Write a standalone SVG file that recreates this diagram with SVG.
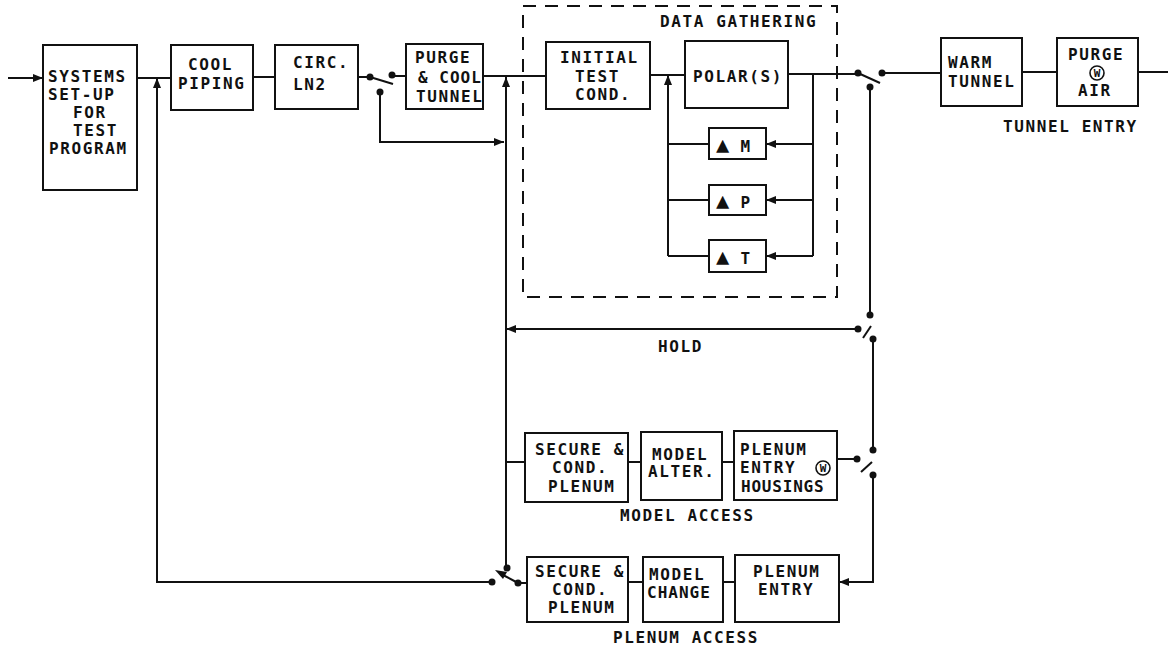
<svg xmlns="http://www.w3.org/2000/svg" width="1168" height="651" viewBox="0 0 1168 651">
<style>
.box{fill:none;stroke:#111;stroke-width:2}
.ln{fill:none;stroke:#111;stroke-width:2}
.dash{fill:none;stroke:#111;stroke-width:2;stroke-dasharray:13 9}
.dot{fill:#111}
text{font-family:"DejaVu Sans Mono","Liberation Mono",monospace;font-size:16px;font-weight:bold;letter-spacing:1.6px;fill:#111}
.sm{font-size:11px;letter-spacing:0}
.tri{font-size:22px;letter-spacing:0}
</style>
<defs>
<marker id="ah" viewBox="0 0 10 10" refX="10" refY="5" markerWidth="10" markerHeight="10" markerUnits="userSpaceOnUse" orient="auto">
<path d="M0,1 L10,5 L0,9 Z" fill="#111"/>
</marker>
</defs>
<rect width="1168" height="651" fill="#fff"/>

<g id="data-gathering">
<rect class="dash" x="523" y="6" width="314" height="291"/>
<text x="660" y="27">DATA GATHERING</text>
</g>

<g id="systems-setup">
<rect class="box" x="43" y="45" width="94" height="145"/>
<text x="48" y="82">SYSTEMS</text>
<text x="48" y="100">SET-UP</text>
<text x="73" y="118">FOR</text>
<text x="73" y="136">TEST</text>
<text x="49" y="154">PROGRAM</text>
</g>
<g id="cool-piping">
<rect class="box" x="171" y="45" width="82" height="65"/>
<text x="188" y="70">COOL</text>
<text x="178" y="89">PIPING</text>
</g>
<g id="circ-ln2">
<rect class="box" x="275" y="45" width="83" height="64"/>
<text x="293" y="68">CIRC.</text>
<text x="293" y="90">LN2</text>
</g>
<g id="purge-cool">
<rect class="box" x="406" y="44" width="77" height="65"/>
<text x="415" y="63">PURGE</text>
<text x="418" y="83" style="letter-spacing:1px">&amp; COOL</text>
<text x="416" y="102">TUNNEL</text>
</g>
<g id="initial-test">
<rect class="box" x="546" y="42" width="104" height="67"/>
<text x="560" y="63">INITIAL</text>
<text x="575" y="82">TEST</text>
<text x="575" y="100">COND.</text>
</g>
<g id="polars">
<rect class="box" x="685" y="41" width="103" height="67"/>
<text x="693" y="82">POLAR(S)</text>
</g>
<g id="delta-m">
<rect class="box" x="709" y="128" width="57" height="31"/>
<text x="716" y="152"><tspan class="tri">▲</tspan> M</text>
</g>
<g id="delta-p">
<rect class="box" x="709" y="185" width="57" height="30"/>
<text x="716" y="208"><tspan class="tri">▲</tspan> P</text>
</g>
<g id="delta-t">
<rect class="box" x="709" y="240" width="57" height="32"/>
<text x="716" y="264"><tspan class="tri">▲</tspan> T</text>
</g>
<g id="warm-tunnel">
<rect class="box" x="941" y="38" width="81" height="68"/>
<text x="948" y="68">WARM</text>
<text x="948" y="87">TUNNEL</text>
</g>
<g id="purge-air">
<rect class="box" x="1057" y="38" width="81" height="68"/>
<text x="1068" y="60">PURGE</text>
<circle cx="1097" cy="73" r="7" fill="none" stroke="#111" stroke-width="1.6"/>
<text class="sm" x="1097" y="77" text-anchor="middle">W</text>
<text x="1078" y="96">AIR</text>
</g>
<g id="tunnel-entry-label"><text x="1003" y="132">TUNNEL ENTRY</text></g>

<g id="hold-label"><text x="658" y="352">HOLD</text></g>

<g id="secure-1">
<rect class="box" x="525" y="433" width="103" height="69"/>
<text x="535" y="455">SECURE &amp;</text>
<text x="552" y="473">COND.</text>
<text x="548" y="492">PLENUM</text>
</g>
<g id="model-alter">
<rect class="box" x="641" y="432" width="81" height="68"/>
<text x="652" y="460">MODEL</text>
<text x="648" y="477">ALTER.</text>
</g>
<g id="plenum-entry-housings">
<rect class="box" x="734" y="431" width="103" height="69"/>
<text x="740" y="455">PLENUM</text>
<text x="740" y="473">ENTRY</text>
<circle cx="823" cy="468" r="7" fill="none" stroke="#111" stroke-width="1.6"/>
<text class="sm" x="823" y="472" text-anchor="middle">W</text>
<text x="741" y="492" style="letter-spacing:0.8px">HOUSINGS</text>
</g>
<g id="model-access-label"><text x="620" y="521">MODEL ACCESS</text></g>

<g id="secure-2">
<rect class="box" x="527" y="557" width="101" height="65"/>
<text x="535" y="577">SECURE &amp;</text>
<text x="552" y="595">COND.</text>
<text x="548" y="613">PLENUM</text>
</g>
<g id="model-change">
<rect class="box" x="643" y="557" width="80" height="65"/>
<text x="649" y="580">MODEL</text>
<text x="647" y="598" style="letter-spacing:1px">CHANGE</text>
</g>
<g id="plenum-entry">
<rect class="box" x="735" y="555" width="104" height="67"/>
<text x="753" y="577">PLENUM</text>
<text x="758" y="595">ENTRY</text>
</g>
<g id="plenum-access-label"><text x="613" y="643">PLENUM ACCESS</text></g>

<g id="connectors">
<line class="ln" x1="8" y1="78" x2="43" y2="78" marker-end="url(#ah)"/>
<line class="ln" x1="137" y1="78" x2="171" y2="78"/>
<line class="ln" x1="253" y1="77" x2="275" y2="77"/>
<line class="ln" x1="358" y1="77" x2="370" y2="77"/>
<line class="ln" x1="392" y1="76" x2="406" y2="76"/>
<polyline class="ln" points="380,92 380,142 504,142" marker-end="url(#ah)"/>
<line class="ln" x1="483" y1="76" x2="546" y2="76"/>
<line class="ln" x1="506" y1="567" x2="506" y2="77" marker-end="url(#ah)"/>
<line class="ln" x1="650" y1="75" x2="685" y2="75"/>
<line class="ln" x1="788" y1="74" x2="858" y2="74"/>
<line class="ln" x1="668" y1="256" x2="668" y2="75" marker-end="url(#ah)"/>
<line class="ln" x1="668" y1="144" x2="709" y2="144"/>
<line class="ln" x1="668" y1="200" x2="709" y2="200"/>
<line class="ln" x1="668" y1="256" x2="709" y2="256"/>
<line class="ln" x1="813" y1="74" x2="813" y2="256"/>
<line class="ln" x1="813" y1="144" x2="766" y2="144" marker-end="url(#ah)"/>
<line class="ln" x1="813" y1="200" x2="766" y2="200" marker-end="url(#ah)"/>
<line class="ln" x1="813" y1="256" x2="766" y2="256" marker-end="url(#ah)"/>
<line class="ln" x1="882" y1="73" x2="941" y2="73"/>
<line class="ln" x1="1022" y1="72" x2="1057" y2="72"/>
<line class="ln" x1="1138" y1="72" x2="1168" y2="72"/>
<line class="ln" x1="870" y1="87" x2="870" y2="315"/>
<line class="ln" x1="858" y1="329" x2="506" y2="329" marker-end="url(#ah)"/>
<line class="ln" x1="873" y1="339" x2="873" y2="450"/>
<line class="ln" x1="506" y1="462" x2="525" y2="462"/>
<line class="ln" x1="628" y1="462" x2="641" y2="462"/>
<line class="ln" x1="722" y1="462" x2="734" y2="462"/>
<line class="ln" x1="837" y1="459" x2="857" y2="459"/>
<polyline class="ln" points="873,475 873,582 839,582" marker-end="url(#ah)"/>
<line class="ln" x1="723" y1="582" x2="735" y2="582"/>
<line class="ln" x1="628" y1="582" x2="643" y2="582"/>
<line class="ln" x1="518" y1="583" x2="527" y2="583"/>
<polyline class="ln" points="492,582 157,582 157,78" marker-end="url(#ah)"/>
</g>

<g id="switches">
<circle class="dot" cx="370" cy="77" r="3.5"/>
<circle class="dot" cx="392" cy="75" r="3.5"/>
<circle class="dot" cx="380" cy="92" r="3.5"/>
<line class="ln" x1="370" y1="77" x2="393" y2="84" stroke-width="2.5"/>

<circle class="dot" cx="858" cy="73" r="3.5"/>
<circle class="dot" cx="882" cy="73" r="3.5"/>
<circle class="dot" cx="870" cy="87" r="3.5"/>
<line class="ln" x1="858" y1="73" x2="880" y2="83" stroke-width="2.5"/>

<circle class="dot" cx="870" cy="315" r="3.5"/>
<circle class="dot" cx="858" cy="329" r="3.5"/>
<circle class="dot" cx="873" cy="339" r="3.5"/>
<line class="ln" x1="863" y1="338" x2="871" y2="326" stroke-width="2.5"/>

<circle class="dot" cx="873" cy="450" r="3.5"/>
<circle class="dot" cx="857" cy="459" r="3.5"/>
<circle class="dot" cx="873" cy="475" r="3.5"/>
<line class="ln" x1="861" y1="472" x2="872" y2="462" stroke-width="2.5"/>

<circle class="dot" cx="507" cy="568" r="3.5"/>
<circle class="dot" cx="492" cy="582" r="3.5"/>
<circle class="dot" cx="518" cy="583" r="3.5"/>
<line class="ln" x1="518" y1="583" x2="503" y2="575"/>
<polygon class="dot" points="495,570 507,572 503,579"/>
</g>
</svg>
